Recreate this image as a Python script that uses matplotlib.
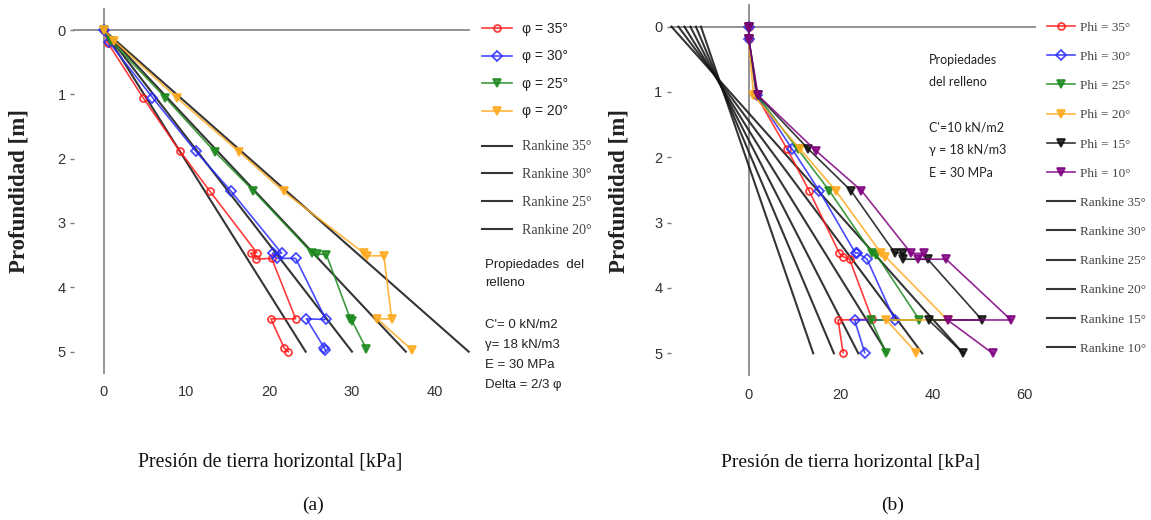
import matplotlib
matplotlib.use("Agg")
import matplotlib.pyplot as plt

# ---------------- (a) backfill c' = 0 ----------------
a_labels = ["φ = 35°", "φ = 30°", "φ = 25°", "φ = 20°"]
a_x = [
    [0, 0.5, 4.75, 9.2, 12.8, 18.5, 17.75, 18.4, 20.3, 23.2, 20.2, 21.8, 22.3],
    [0, 0.6, 5.9, 11.1, 15.35, 21.5, 20.4, 20.9, 23.2, 26.85, 24.5, 26.65, 26.8],
    [0, 0.9, 7.45, 13.4, 18.1, 25.2, 25.8, 26.9, 29.8, 30.0, 31.75],
    [0, 1.3, 8.9, 16.35, 21.75, 31.45, 31.85, 33.85, 34.8, 33.05, 37.3],
]
a_y = [
    [0, 0.2, 1.05, 1.88, 2.5, 3.46, 3.47, 3.56, 3.55, 4.49, 4.49, 4.94, 5.0],
    [0, 0.18, 1.05, 1.88, 2.5, 3.47, 3.47, 3.55, 3.55, 4.5, 4.49, 4.94, 4.98],
    [0, 0.17, 1.05, 1.89, 2.5, 3.47, 3.48, 3.49, 4.49, 4.52, 4.96],
    [0, 0.17, 1.06, 1.89, 2.51, 3.47, 3.51, 3.51, 4.49, 4.49, 4.98],
]
a_rankine_labels = ["Rankine 35°", "Rankine 30°", "Rankine 25°", "Rankine 20°"]
a_rankine_top = [0, 0, 0, 0]
a_rankine_bottom = [24.4, 30.0, 36.5, 44.1]
a_props_title = ["Propiedades  del", "relleno"]
a_props = ["C'= 0 kN/m2", "γ= 18 kN/m3", "E = 30 MPa", "Delta = 2/3 φ"]

# ---------------- (b) backfill c' = 10 kN/m2 ----------------
b_labels = ["Phi = 35°", "Phi = 30°", "Phi = 25°", "Phi = 20°", "Phi = 15°", "Phi = 10°"]
b_x = [
    [0, 0, 1.6, 8.3, 13.1, 19.7, 20.5, 21.9, 26.8, 19.4, 20.5],
    [0, 0, 1.7, 9.4, 15.3, 23.2, 23.6, 25.7, 31.7, 23.0, 25.2],
    [0, 0, 1.8, 10.6, 17.5, 26.8, 27.7, 37.1, 26.6, 29.9],
    [0, 0, 1.0, 11.1, 18.9, 28.8, 29.7, 43.2, 29.9, 36.4],
    [0, 0, 1.9, 12.9, 22.2, 31.7, 33.6, 33.5, 38.9, 50.7, 39.1, 46.6],
    [0, 0, 2.0, 14.6, 24.5, 35.3, 38.0, 36.7, 42.9, 57.0, 43.2, 53.0],
]
b_y = [
    [0, 0.19, 1.05, 1.87, 2.51, 3.47, 3.52, 3.56, 4.48, 4.49, 4.99],
    [0, 0.19, 1.05, 1.87, 2.51, 3.47, 3.46, 3.56, 4.49, 4.49, 4.99],
    [0, 0.19, 1.05, 1.87, 2.51, 3.47, 3.49, 4.49, 4.49, 5.0],
    [0, 0.19, 1.05, 1.87, 2.51, 3.47, 3.52, 4.49, 4.49, 4.99],
    [0, 0.19, 1.05, 1.87, 2.51, 3.46, 3.47, 3.56, 3.56, 4.49, 4.49, 5.0],
    [0, 0.19, 1.05, 1.9, 2.51, 3.47, 3.47, 3.56, 3.56, 4.49, 4.49, 5.0],
]
b_rankine_labels = ["Rankine 35°", "Rankine 30°", "Rankine 25°",
                    "Rankine 20°", "Rankine 15°", "Rankine 10°"]
b_rankine_top = [-10.4, -11.5, -12.7, -14.0, -15.3, -16.8]
b_rankine_bottom = [14.0, 18.5, 23.8, 30.1, 37.7, 46.6]
b_props_title = ["Propiedades", "del relleno"]
b_props = ["C'=10 kN/m2", "γ = 18 kN/m3", "E = 30 MPa"]
rankine_depth = [0, 5]

colors = ["#ff1a1a", "#2a2aff", "#1e8a1e", "#ffaa1e", "#111111", "#800080"]
markers = ["o", "D", "v", "v", "v", "v"]

SANS = ["Liberation Sans", "DejaVu Sans"]
SERIF = ["Liberation Serif", "DejaVu Serif"]
plt.rcParams["font.family"] = SANS

W, H = 1151, 520
fig = plt.figure(figsize=(W / 100, H / 100), dpi=100)


def axes_px(x0, y0, x1, y1):
    return fig.add_axes([x0 / W, 1 - y1 / H, (x1 - x0) / W, (y1 - y0) / H])


def style(ax, xlim, xticks, spine_x, hx0, hx1):
    ax.set_xlim(*xlim)
    ax.set_ylim(5.45, -0.35)
    ax.patch.set_alpha(0)
    for s in ["top", "right", "bottom"]:
        ax.spines[s].set_visible(False)
    ax.spines["left"].set_position(("data", spine_x))
    ax.spines["left"].set_color("none")
    ax.set_yticks(range(6))
    ax.set_xticks(xticks)
    ax.tick_params(axis="y", length=3, width=1, color="#777777", pad=3,
                   labelsize=10.5, labelcolor="#333333")
    ax.tick_params(axis="x", length=0, pad=3.5, labelsize=10.5, labelcolor="#333333")
    ax.axvline(0, ymin=0.02, ymax=1, color="#8a8a8a", lw=1.3, zorder=1)
    ax.axhline(0, xmin=hx0, xmax=hx1, color="#8a8a8a", lw=1.3, zorder=1)


def draw_series(ax, xs, ys, labels):
    handles = []
    for i, (x, y) in enumerate(zip(xs, ys)):
        open_mk = markers[i] in ("o", "D")
        h, = ax.plot(x, y, color=colors[i], lw=1.2, alpha=0.85,
                     marker=markers[i], ms=5 if open_mk else 6,
                     mfc="none" if open_mk else colors[i], mew=1.3,
                     label=labels[i], zorder=3)
        handles.append(h)
    return handles


def draw_rankine(ax, tops, bottoms, labels):
    handles = []
    for t, b, lab in zip(tops, bottoms, labels):
        h, = ax.plot([t, b], rankine_depth, color="#111111", lw=1.5, alpha=0.85,
                     label=lab, zorder=2)
        handles.append(h)
    return handles


def legend_at(ax, handles, x_px, top_px, size, spacing, hlen, hpad, family, color):
    leg = ax.legend(handles=handles, loc="upper left",
                    bbox_to_anchor=(x_px / W, 1 - top_px / H),
                    bbox_transform=fig.transFigure, frameon=False,
                    prop={"family": family, "size": size}, borderpad=0,
                    borderaxespad=0, handlelength=hlen, handletextpad=hpad,
                    labelspacing=spacing, numpoints=1)
    for t in leg.get_texts():
        t.set_color(color)
    return leg


def text_lines(x_px, ys_px, lines, size, family):
    for y, s in zip(ys_px, lines):
        fig.text(x_px / W, 1 - y / H, s, fontsize=size, family=family,
                 ha="left", va="center", color="#222222")


# ---------------- panel (a) ----------------
ax1 = axes_px(54, 7.5, 472, 380.6)
style(ax1, (-6, 44.5), [0, 10, 20, 30, 40], -3.6, 0.0475, 0.992)
ra = draw_rankine(ax1, a_rankine_top, a_rankine_bottom, a_rankine_labels)
sa = draw_series(ax1, a_x, a_y, a_labels)

leg1 = legend_at(ax1, sa, 482, 22, 10, 0.97, 2.16, 0.72, SANS, "#222222")
ax1.add_artist(leg1)
legend_at(ax1, ra, 482, 140.5, 10, 1.06, 2.16, 0.72, SERIF, "#444444")

text_lines(485, [265, 283], a_props_title, 9.5, SANS)
text_lines(485, [325, 345, 365, 385], a_props, 9.5, SANS)

# ---------------- panel (b) ----------------
ax2 = axes_px(647.6, 3.8, 1038.6, 382.7)
style(ax2, (-22, 63), [0, 20, 40, 60], -17.0, 0.0588, 0.9906)
rb = draw_rankine(ax2, b_rankine_top, b_rankine_bottom, b_rankine_labels)
sb = draw_series(ax2, b_x, b_y, b_labels)

legend_at(ax2, sb + rb, 1047, 21.5, 9.5, 1.285, 2.12, 0.38, SERIF, "#444444")

LATO = ["Lato", "DejaVu Sans"]
text_lines(929, [60, 82], b_props_title, 9, LATO)
text_lines(929, [127, 150, 173], b_props, 9, LATO)

# ---------------- axis titles ----------------
for xc in (19, 619):
    fig.text(xc / W, 1 - 191 / H, "Profundidad [m]", rotation=90, fontsize=16.5,
             fontweight="bold", family=SERIF, ha="center", va="center", color="#222222")
fig.text(270 / W, 1 - 462 / H, "Presión de tierra horizontal [kPa]", fontsize=14.3,
         family=SERIF, ha="center", va="center", color="#111111")
fig.text(851 / W, 1 - 462 / H, "Presión de tierra horizontal [kPa]", fontsize=14,
         family=SERIF, ha="center", va="center", color="#111111")
fig.text(313 / W, 1 - 505 / H, "(a)", fontsize=14, family=SERIF,
         ha="center", va="center", color="#111111")
fig.text(893 / W, 1 - 505 / H, "(b)", fontsize=14, family=SERIF,
         ha="center", va="center", color="#111111")

fig.savefig("out.png", dpi=100)
